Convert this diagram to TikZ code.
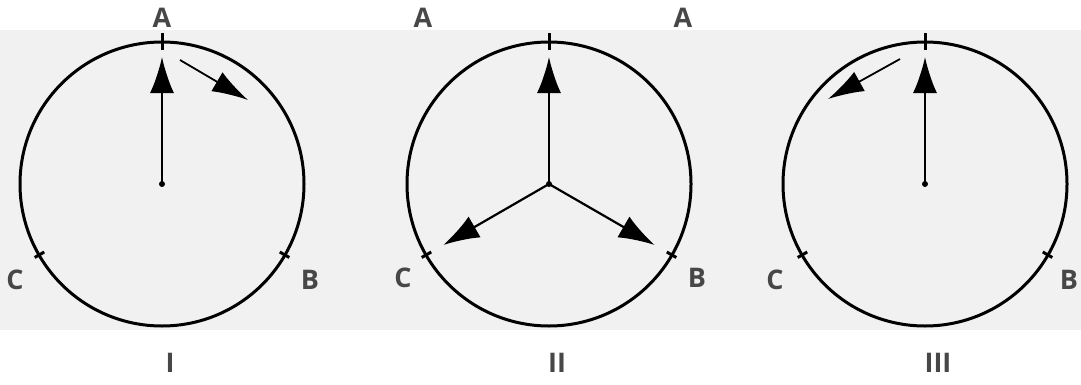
\documentclass[tikz,border=0pt]{standalone}
\usepackage{fontspec}
\setmainfont{Open Sans}
\usetikzlibrary{arrows.meta}

\tikzset{
	ring/.style={line width=3pt},
	notch/.style={line width=3pt},
	phasor/.style={line width=2.2pt, -{Latex[length=36pt,width=24pt]}},
	nudge/.style={line width=1.8pt, -{Latex[length=36pt,width=22pt]}},
	lbl/.style={font=\fontsize{27}{32}\selectfont\bfseries, text=black!72}
}

\begin{document}
\begin{tikzpicture}[x=1pt, y=1pt]
	\useasboundingbox (0, 0) rectangle (1081, 384);
	% faded page behind the drawings
	\fill[gray!11] (0, 54) rectangle (1081, 354);

	\foreach \n/\cx in {1/162, 2/549, 3/925} {
		\coordinate (O\n) at (\cx, 200);
		\draw[ring] (O\n) circle (142);
		\draw[notch] (O\n) ++(90:134) -- ++(90:17);
		\draw[notch] (O\n) ++(-30:136) -- ++(-30:11);
		\draw[notch] (O\n) ++(210:136) -- ++(210:11);
		\path (O\n) ++(90:127) coordinate (A\n);
		\draw[phasor] (O\n) -- (A\n);
		\fill (O\n) circle (3);
	}

	% II: the three phasors
	\path (O2) ++(-30:122) coordinate (B2);
	\path (O2) ++(210:122) coordinate (C2);
	\draw[phasor] (O2) -- (B2);
	\draw[phasor] (O2) -- (C2);

	% I and III: small shifted arrows
	\path (O1) ++(18, 124) coordinate (s1) (O1) ++(86, 84) coordinate (e1);
	\draw[nudge] (s1) -- (e1);
	\path (O3) ++(-25, 125) coordinate (s3) (O3) ++(-97, 85) coordinate (e3);
	\draw[nudge] (s3) -- (e3);

	\draw (162, 366) node[lbl] (la1) {A};
	\draw (15, 104) node[lbl] (lc1) {C};
	\draw (310, 104) node[lbl] (lb1) {B};
	\draw (423, 366) node[lbl] (la2) {A};
	\draw (683, 366) node[lbl] (la2b) {A};
	\draw (403, 106) node[lbl] (lc2) {C};
	\draw (697, 106) node[lbl] (lb2) {B};
	\draw (775, 104) node[lbl] (lc3) {C};
	\draw (1069, 104) node[lbl] (lb3) {B};

	\draw (170, 21) node[lbl] (n1) {I};
	\draw (557, 21) node[lbl] (n2) {II};
	\draw (938, 21) node[lbl] (n3) {III};
\end{tikzpicture}
\end{document}
